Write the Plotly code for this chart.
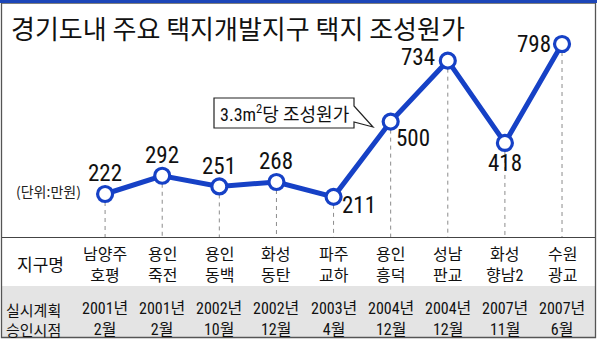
import plotly.graph_objects as go

# ---- data -------------------------------------------------------------
districts = ["남양주 호평", "용인 죽전", "용인 동백", "화성 동탄", "파주 교하",
             "용인 흥덕", "성남 판교", "화성 향남2", "수원 광교"]
name_line1 = ["남양주", "용인", "용인", "화성", "파주", "용인", "성남", "화성", "수원"]
name_line2 = ["호평", "죽전", "동백", "동탄", "교하", "흥덕", "판교", "향남2", "광교"]
approval_year = ["2001년", "2001년", "2002년", "2002년", "2003년",
                 "2004년", "2004년", "2007년", "2007년"]
approval_month = ["2월", "2월", "10월", "12월", "4월", "12월", "12월", "11월", "6월"]
cost = [222, 292, 251, 268, 211, 500, 734, 418, 798]  # 만원 per 3.3㎡

# label offsets (px) relative to each marker
label_shift = [(0, 21), (0, 20), (0, 20), (0, 21), (25, -9),
               (22, -17), (-30, 3), (0, -21), (-28, 0)]

# ---- styling ----------------------------------------------------------
W, H = 600, 341
BLUE = "#1641c6"
KR = "Noto Sans CJK KR"
NUM = "Roboto Condensed, Noto Sans CJK KR"

def px(x):
    return x / W

def py(y):
    return 1 - y / H

x_range = [-1.84, 8.665]
y_range = [-342.5, 967.0]
table_top = 237.5
row2_top = 286
bottom = 337.5

# value at which the dashed drop lines meet the table
drop_base = y_range[0] + (1 - table_top / H) * (y_range[1] - y_range[0])

fig = go.Figure()

fig.add_trace(go.Scatter(
    x=districts, y=cost, mode="lines+markers",
    line=dict(color=BLUE, width=5),
    marker=dict(size=15, color="white", line=dict(color=BLUE, width=3.2)),
    hoverinfo="skip", showlegend=False, cliponaxis=False,
))

shapes = []
# gray fill of the approval-date row
shapes.append(dict(type="rect", xref="paper", yref="paper",
                   x0=px(1.5), x1=px(595.5), y0=py(bottom), y1=py(row2_top),
                   fillcolor="#e4e4e4", line=dict(width=0), layer="below"))
# separator line between chart and table
shapes.append(dict(type="line", xref="paper", yref="paper",
                   x0=px(1.5), x1=px(595.5), y0=py(table_top), y1=py(table_top),
                   line=dict(color="#444", width=1.2)))
# outer frame
shapes.append(dict(type="rect", xref="paper", yref="paper",
                   x0=px(1.5), x1=px(595.5), y0=py(bottom), y1=py(3),
                   line=dict(color="#555", width=1.3)))
# blue top rule
shapes.append(dict(type="rect", xref="paper", yref="paper",
                   x0=0, x1=px(597), y0=py(3), y1=1,
                   fillcolor="#1d46b8", line=dict(width=0)))
# dashed drop lines
for d, v in zip(districts, cost):
    shapes.append(dict(type="line", xref="x", yref="y", x0=d, x1=d,
                       y0=v, y1=drop_base, layer="below",
                       line=dict(color="#8c8c8c", width=1, dash="4px,4px")))
# callout box
bx0, bx1, by0, by1 = 214, 354, 98, 128
path = (f"M {px(bx0)},{py(by0)} L {px(bx1)},{py(by0)} L {px(bx1)},{py(106)} "
        f"L {px(373)},{py(127)} L {px(bx1)},{py(122)} L {px(bx1)},{py(by1)} "
        f"L {px(bx0)},{py(by1)} Z")
shapes.append(dict(type="path", xref="paper", yref="paper", path=path,
                   fillcolor="white", line=dict(color="#222", width=1.2)))

ann = []
ann.append(dict(xref="paper", yref="paper", x=px(9), y=py(27),
                xanchor="left", yanchor="middle", showarrow=False,
                text="경기도내 주요 택지개발지구 택지 조성원가",
                font=dict(family=KR, size=26, color="#111")))
ann.append(dict(xref="paper", yref="paper", x=px(48), y=py(191),
                xanchor="center", yanchor="middle", showarrow=False,
                text="(단위:만원)", font=dict(family=KR, size=14, color="#222")))
ann.append(dict(xref="paper", yref="paper", x=px((bx0 + bx1) / 2), y=py(113),
                xanchor="center", yanchor="middle", showarrow=False,
                text="3.3m<sup>2</sup>당 조성원가",
                font=dict(family=NUM, size=18, color="#111")))

# value labels
for d, v, (dx, dy) in zip(districts, cost, label_shift):
    ann.append(dict(xref="x", yref="y", x=d, y=v, xshift=dx, yshift=dy,
                    xanchor="center", yanchor="middle", showarrow=False,
                    text=str(v), font=dict(family=NUM, size=23, color="#111")))

# table row headers
ann.append(dict(xref="paper", yref="paper", x=px(40), y=py(263),
                xanchor="center", yanchor="middle", showarrow=False,
                text="지구명", font=dict(family=KR, size=17, color="#111")))
ann.append(dict(xref="paper", yref="paper", x=px(33), y=py(319),
                xanchor="center", yanchor="middle", showarrow=False,
                text="실시계획<br>승인시점", font=dict(family=KR, size=15, color="#111")))

# table cells
for d, a, b, yr, mo in zip(districts, name_line1, name_line2,
                           approval_year, approval_month):
    ann.append(dict(xref="x", yref="paper", x=d, y=py(265),
                    xanchor="center", yanchor="middle", showarrow=False,
                    text=f"{a}<br>{b}", font=dict(family=NUM, size=16, color="#111")))
    ann.append(dict(xref="x", yref="paper", x=d, y=py(319),
                    xanchor="center", yanchor="middle", showarrow=False,
                    text=f"{yr}<br>{mo}", font=dict(family=NUM, size=16, color="#111")))

fig.update_layout(
    width=W, height=H, margin=dict(l=0, r=0, t=0, b=0),
    paper_bgcolor="white", plot_bgcolor="rgba(0,0,0,0)",
    xaxis=dict(range=x_range, visible=False, fixedrange=True),
    yaxis=dict(range=y_range, visible=False, fixedrange=True),
    shapes=shapes, annotations=ann,
)

fig.write_html("out.html")
